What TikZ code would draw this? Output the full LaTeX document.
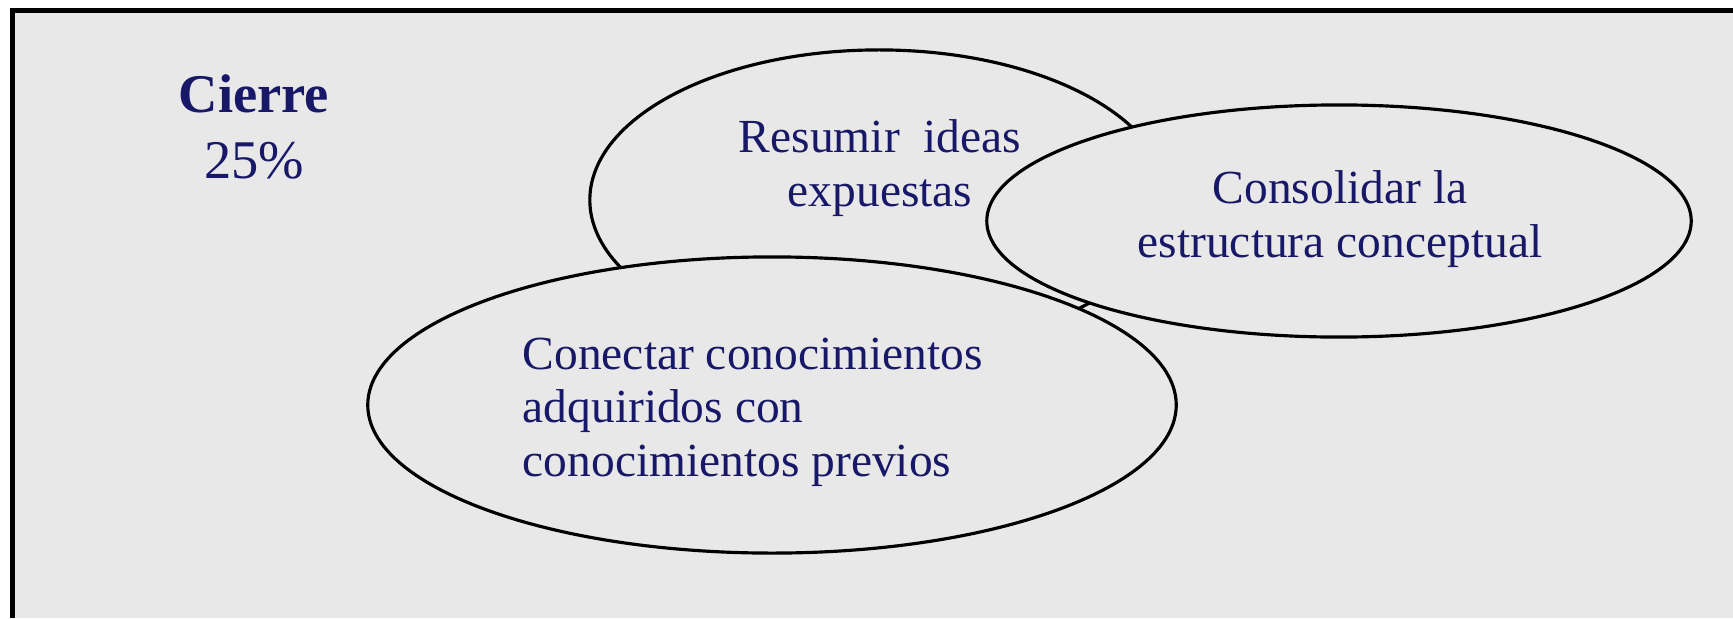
\documentclass[tikz,border=0pt]{standalone}
\usepackage{fontspec}
\setmainfont{Liberation Serif}
\usetikzlibrary{shapes.geometric}
\definecolor{panelgray}{RGB}{232,232,232}
\definecolor{navytext}{RGB}{24,24,104}
\begin{document}
\begin{tikzpicture}[
            x=0.01cm, y=-0.01cm,
            idea/.style={ellipse,draw,line width=0.9pt,fill=panelgray,inner sep=0pt},
            idea text/.style={text=navytext,inner sep=0pt,font={\fontsize{13.5}{15.2}\selectfont}},
            title text/.style={text=navytext,inner sep=0pt,align=center,font={\fontsize{15.5}{18.8}\selectfont}}
        ]
        \useasboundingbox (0,0) rectangle (1733,618);
        \fill[panelgray] (12,10) rectangle (1733,618);
        \draw[line width=1.6pt] (12.5,618) -- (12.5,10.5) -- (1733,10.5);
        \node[idea,minimum width=5.78cm,minimum height=3cm] (resumir) at (879,200) {};
        \node[idea,minimum width=7.04cm,minimum height=2.32cm] (consolidar) at (1339,221) {};
        \node[idea,minimum width=8.08cm,minimum height=2.96cm] (conectar) at (772,405) {};
        \node[title text] (cierre) at (254,127) {\textbf{Cierre}\\25\%};
        \node[idea text,align=center] (resumirTxt) at (880,168) {Resumir\ \ ideas\\expuestas};
        \node[idea text,align=center] (consolidarTxt) at (1340,219) {Consolidar la\\estructura conceptual};
        \node[idea text,align=left,anchor=west] (conectarTxt) at (522,412) {Conectar conocimientos\\adquiridos con\\conocimientos previos};
    \end{tikzpicture}
\end{document}
